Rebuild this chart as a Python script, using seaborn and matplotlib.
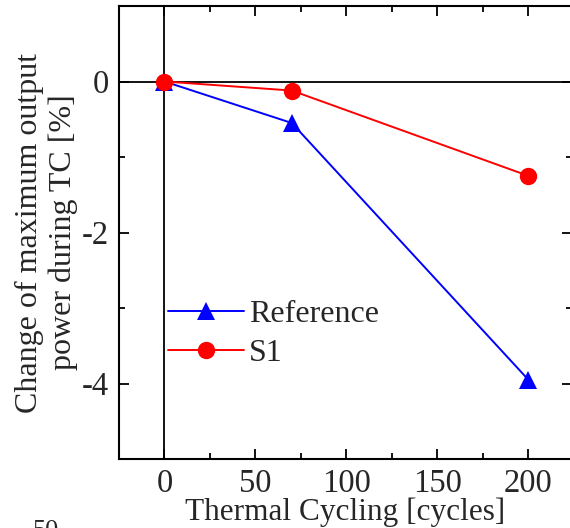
import matplotlib
matplotlib.use("Agg")
import matplotlib.pyplot as plt
import seaborn as sns
import pandas as pd
from matplotlib.ticker import MultipleLocator

cycles = [0, 70, 200]
reference_vals = [0.0, -0.55, -3.95]
s1_vals = [0.0, -0.12, -1.25]
series_names = ["Reference", "S1"]
x_ticks = [0, 50, 100, 150, 200]
y_ticks = [0, -2, -4]

df = pd.DataFrame({
    "cycles": cycles + cycles,
    "value": reference_vals + s1_vals,
    "series": [series_names[0]] * len(cycles) + [series_names[1]] * len(cycles),
})

sns.set_theme(style="white")
plt.rcParams["font.family"] = ["Liberation Serif", "DejaVu Serif"]

fig = plt.figure(figsize=(5.70, 5.28), dpi=100)
ax = fig.add_axes([119 / 570, 1 - 459 / 528, (572 - 119) / 570, (459 - 6) / 528])

ax.axhline(0, color="black", lw=1.3, zorder=1)
ax.axvline(0, color="black", lw=1.3, zorder=1)

sns.lineplot(data=df, x="cycles", y="value", hue="series", style="series",
             palette={"Reference": "#0000ff", "S1": "#ff0000"},
             markers={"Reference": "^", "S1": "o"},
             dashes={"Reference": "", "S1": ""},
             markersize=12.5, markeredgewidth=0, linewidth=1.4,
             ax=ax, zorder=3)

ax.set_xlim(-25, 224)
ax.set_ylim(-5, 1)
ax.set_xticks(x_ticks)
ax.set_yticks(y_ticks)
ax.set_xticklabels([str(v) for v in x_ticks])
ax.set_yticklabels([str(v) for v in y_ticks])
ax.xaxis.set_minor_locator(MultipleLocator(25))
ax.yaxis.set_minor_locator(MultipleLocator(1))
ax.tick_params(which="both", direction="in", top=True, right=True,
               bottom=True, left=True, color="black", width=1.3)
ax.tick_params(which="major", length=7, labelsize=23.5, pad=7)
ax.tick_params(which="minor", length=4)
for s in ax.spines.values():
    s.set_color("black")
    s.set_linewidth(1.5)

ax.set_xlabel("Thermal Cycling [cycles]", fontsize=22.5, labelpad=-1)
ax.set_ylabel("Change of maximum output\npower during TC [%]", fontsize=23, labelpad=3,
              linespacing=1.2)

leg = ax.legend(loc="upper left", bbox_to_anchor=(0.079, 0.38), frameon=False,
                fontsize=23, handlelength=2.4, handletextpad=0.15,
                labelspacing=0.3, borderaxespad=0.0)

fig.text(46 / 570, -0.006, "50", fontsize=19, ha="center", va="center")

fig.savefig("out.png", dpi=100)
